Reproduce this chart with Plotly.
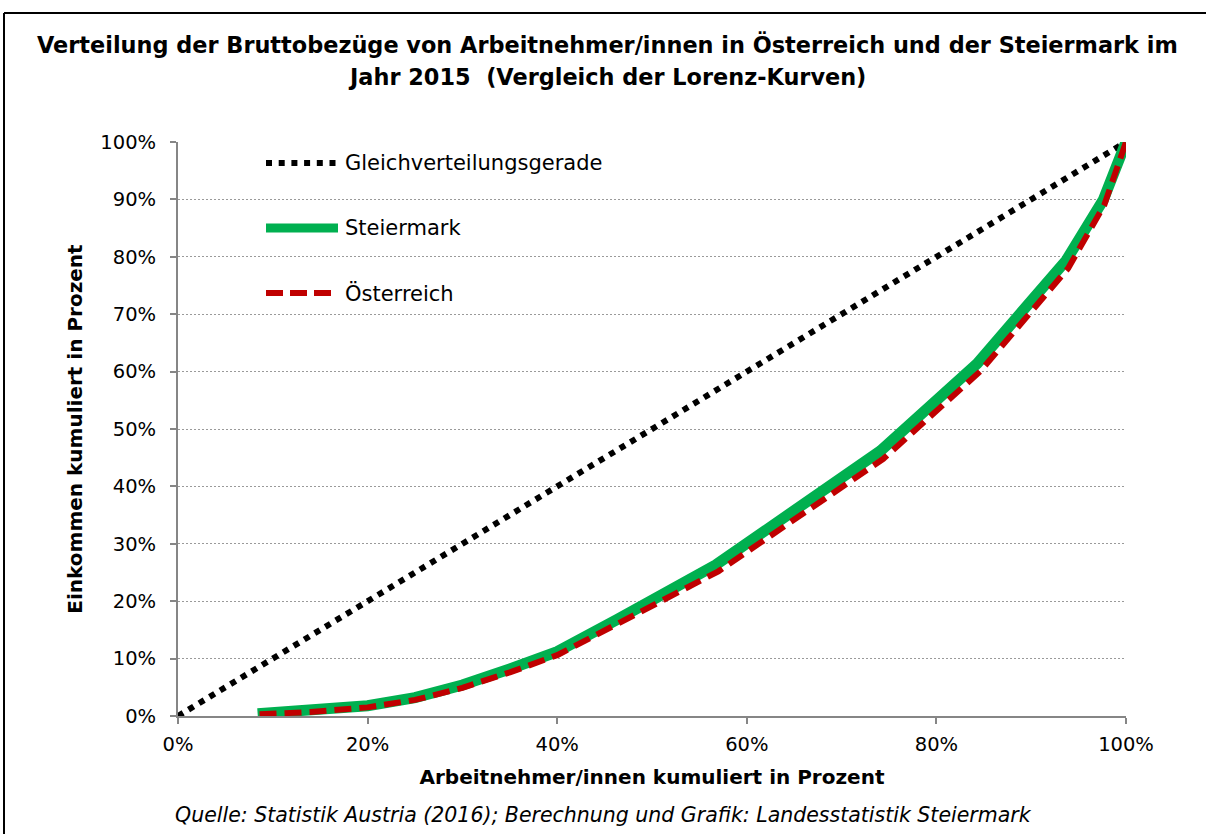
import plotly.graph_objects as go

# ---- data (shares in %) ----
equal_x = [0, 100]
equal_y = [0, 100]

stmk_x = [8.4, 14, 20, 25, 30, 35, 40, 46.3, 56.7, 74.1, 84.3, 93.7, 97.6, 100]
stmk_y = [0.4, 0.9, 1.8, 3.2, 5.4, 8.2, 11.2, 16.8, 26.3, 46.2, 61.4, 79.4, 89.9, 100]

oe_x = [8.6, 14, 20, 25, 30, 35, 40, 46.3, 57.0, 74.4, 84.6, 93.9, 97.7, 100]
oe_y = [0.3, 0.7, 1.5, 2.8, 4.9, 7.6, 10.6, 16.0, 25.2, 44.8, 60.0, 78.0, 89.0, 100]

x_ticks = [0, 20, 40, 60, 80, 100]
y_ticks = [0, 10, 20, 30, 40, 50, 60, 70, 80, 90, 100]

names = ["Gleichverteilungsgerade", "Steiermark", "Österreich"]

W, H = 1206, 834
L, R, T, B = 178, 80, 142, 118
pw, ph = W - L - R, H - T - B

def px(xp):
    return (xp - L) / pw

def py(yp):
    return (H - B - yp) / ph

GREEN = "#00B050"
RED = "#C00000"
FONT = "DejaVu Sans, Arial, sans-serif"

fig = go.Figure()
fig.add_trace(go.Scatter(x=[v / 100 for v in equal_x], y=[v / 100 for v in equal_y],
                         mode="lines", name=names[0], showlegend=False,
                         line=dict(color="black", width=6, dash="6px,6.3px")))
fig.add_trace(go.Scatter(x=[v / 100 for v in stmk_x], y=[v / 100 for v in stmk_y],
                         mode="lines", name=names[1], showlegend=False,
                         line=dict(color=GREEN, width=11)))
fig.add_trace(go.Scatter(x=[v / 100 for v in oe_x], y=[v / 100 for v in oe_y],
                         mode="lines", name=names[2], showlegend=False,
                         line=dict(color=RED, width=6, dash="17px,8px")))

shapes = []
annotations = []
# manual legend
rows = [163, 228, 293]
styles = [dict(color="black", width=6, dash="6px,6.7px"),
          dict(color=GREEN, width=9),
          dict(color=RED, width=6, dash="17px,7px")]
for name, yr, st in zip(names, rows, styles):
    shapes.append(dict(type="line", xref="paper", yref="paper",
                       x0=px(266), x1=px(338), y0=py(yr), y1=py(yr), line=st))
    annotations.append(dict(text=name, xref="paper", yref="paper", x=px(343), y=py(yr),
                            xanchor="left", yanchor="middle", showarrow=False,
                            font=dict(size=21, color="black", family=FONT)))

# outer frame (left and top edges)
shapes.append(dict(type="line", xref="paper", yref="paper", x0=px(4), x1=px(4),
                   y0=py(13), y1=py(850), line=dict(color="black", width=2)))
shapes.append(dict(type="line", xref="paper", yref="paper", x0=px(4), x1=px(1215),
                   y0=py(13), y1=py(13), line=dict(color="black", width=2)))

# source
annotations.append(dict(text="<i>Quelle: Statistik Austria (2016); Berechnung und Grafik: Landesstatistik Steiermark</i>",
                        xref="paper", yref="paper", x=px(603), y=py(815), xanchor="center",
                        yanchor="middle", showarrow=False,
                        font=dict(size=20.5, color="black", family=FONT)))
# title lines
annotations.append(dict(text="<b>Verteilung der Bruttobezüge von Arbeitnehmer/innen in Österreich und der Steiermark im</b>",
                        xref="paper", yref="paper", x=px(607), y=py(45), xanchor="center",
                        yanchor="middle", showarrow=False,
                        font=dict(size=22.4, color="black", family=FONT)))
annotations.append(dict(text="<b>Jahr 2015  (Vergleich der Lorenz-Kurven)</b>",
                        xref="paper", yref="paper", x=px(607), y=py(77), xanchor="center",
                        yanchor="middle", showarrow=False,
                        font=dict(size=22.4, color="black", family=FONT)))

axis_common = dict(showline=True, linecolor="#868686", linewidth=2,
                   ticks="outside", ticklen=6, tickcolor="#868686", tickwidth=2,
                   tickformat=".0%", zeroline=False,
                   tickfont=dict(size=19.5, color="black", family=FONT))

fig.update_layout(
    width=W, height=H,
    margin=dict(l=L, r=R, t=T, b=B),
    paper_bgcolor="white", plot_bgcolor="white",
    shapes=shapes, annotations=annotations,
    xaxis=dict(range=[0, 1], tickvals=[v / 100 for v in x_ticks], showgrid=False,
               ticklabelstandoff=4,
               title=dict(text="<b>Arbeitnehmer/innen kumuliert in Prozent</b>",
                          font=dict(size=20, color="black", family=FONT), standoff=15),
               **axis_common),
    yaxis=dict(range=[0, 1], tickvals=[v / 100 for v in y_ticks], showgrid=True,
               gridcolor="#9a9a9a", gridwidth=1, griddash="2px,2px",
               ticklabelstandoff=10,
               title=dict(text="<b>Einkommen kumuliert in Prozent</b>",
                          font=dict(size=20, color="black", family=FONT), standoff=12),
               **axis_common),
    font=dict(family=FONT, color="black"),
)

fig.write_html("out.html", config={"displayModeBar": False},
               post_script="document.body.style.margin='0px';")
